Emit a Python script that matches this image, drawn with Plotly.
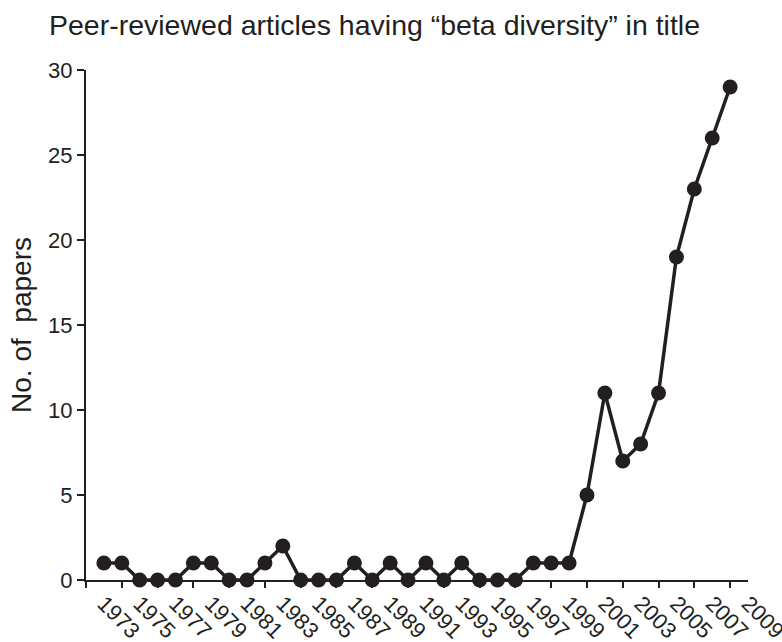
import plotly.graph_objects as go

# Publication counts per year
years = list(range(1973, 2009))
papers = [1, 1, 0, 0, 0, 1, 1, 0, 0, 1, 2, 0, 0, 0, 1, 0, 1, 0, 1, 0,
          1, 0, 0, 0, 1, 1, 1, 5, 11, 7, 8, 11, 19, 23, 26, 29]

label_years = list(range(1973, 2010, 2))
tick_years = list(range(1972, 2009, 2))
y_ticks = [0, 5, 10, 15, 20, 25, 30]

ink = "#231f20"
font_family = "Liberation Sans, Arial, Helvetica, sans-serif"

fig = go.Figure()
fig.add_trace(go.Scatter(
    x=years, y=papers, mode="lines+markers",
    line=dict(color=ink, width=3.5),
    marker=dict(color=ink, size=15),
    cliponaxis=False, showlegend=False, hoverinfo="x+y",
))
# invisible trace that activates the secondary x-axis carrying the tick marks
fig.add_trace(go.Scatter(x=[tick_years[0]], y=[0], xaxis="x2", mode="markers",
                         marker=dict(opacity=0), showlegend=False, hoverinfo="skip"))

fig.update_layout(
    width=782, height=642,
    margin=dict(l=86, r=34, t=70, b=62),
    paper_bgcolor="white", plot_bgcolor="white",
    font=dict(family=font_family, color=ink),
    title=dict(text="Peer-reviewed articles having \u201cbeta diversity\u201d in title",
               x=49 / 782, xanchor="left", xref="container",
               y=1 - 25 / 642, yanchor="middle", yref="container",
               font=dict(size=28.5, color=ink)),
    xaxis=dict(range=[1972, 2009], tickvals=label_years,
               ticktext=[str(v) for v in label_years], tickangle=45,
               ticks="", showline=True, linecolor=ink, linewidth=2,
               showgrid=False, zeroline=False, tickfont=dict(size=22, color=ink),
               ticklabeloverflow="allow", automargin=False),
    xaxis2=dict(range=[1972, 2009], overlaying="x", side="bottom",
                tickvals=tick_years, ticks="outside", ticklen=7, tickwidth=2,
                tickcolor=ink, showticklabels=False, showline=False,
                showgrid=False, zeroline=False, automargin=False),
    yaxis=dict(range=[0, 30], tickvals=y_ticks, ticks="outside", ticklen=7,
               tickwidth=2, tickcolor=ink, showline=True, linecolor=ink,
               linewidth=2, showgrid=False, zeroline=False,
               tickfont=dict(size=22, color=ink), automargin=False,
               title=dict(text="No. of\u00a0 papers", standoff=8,
                          font=dict(size=28, color=ink))),
)

fig.write_html("out.html")
